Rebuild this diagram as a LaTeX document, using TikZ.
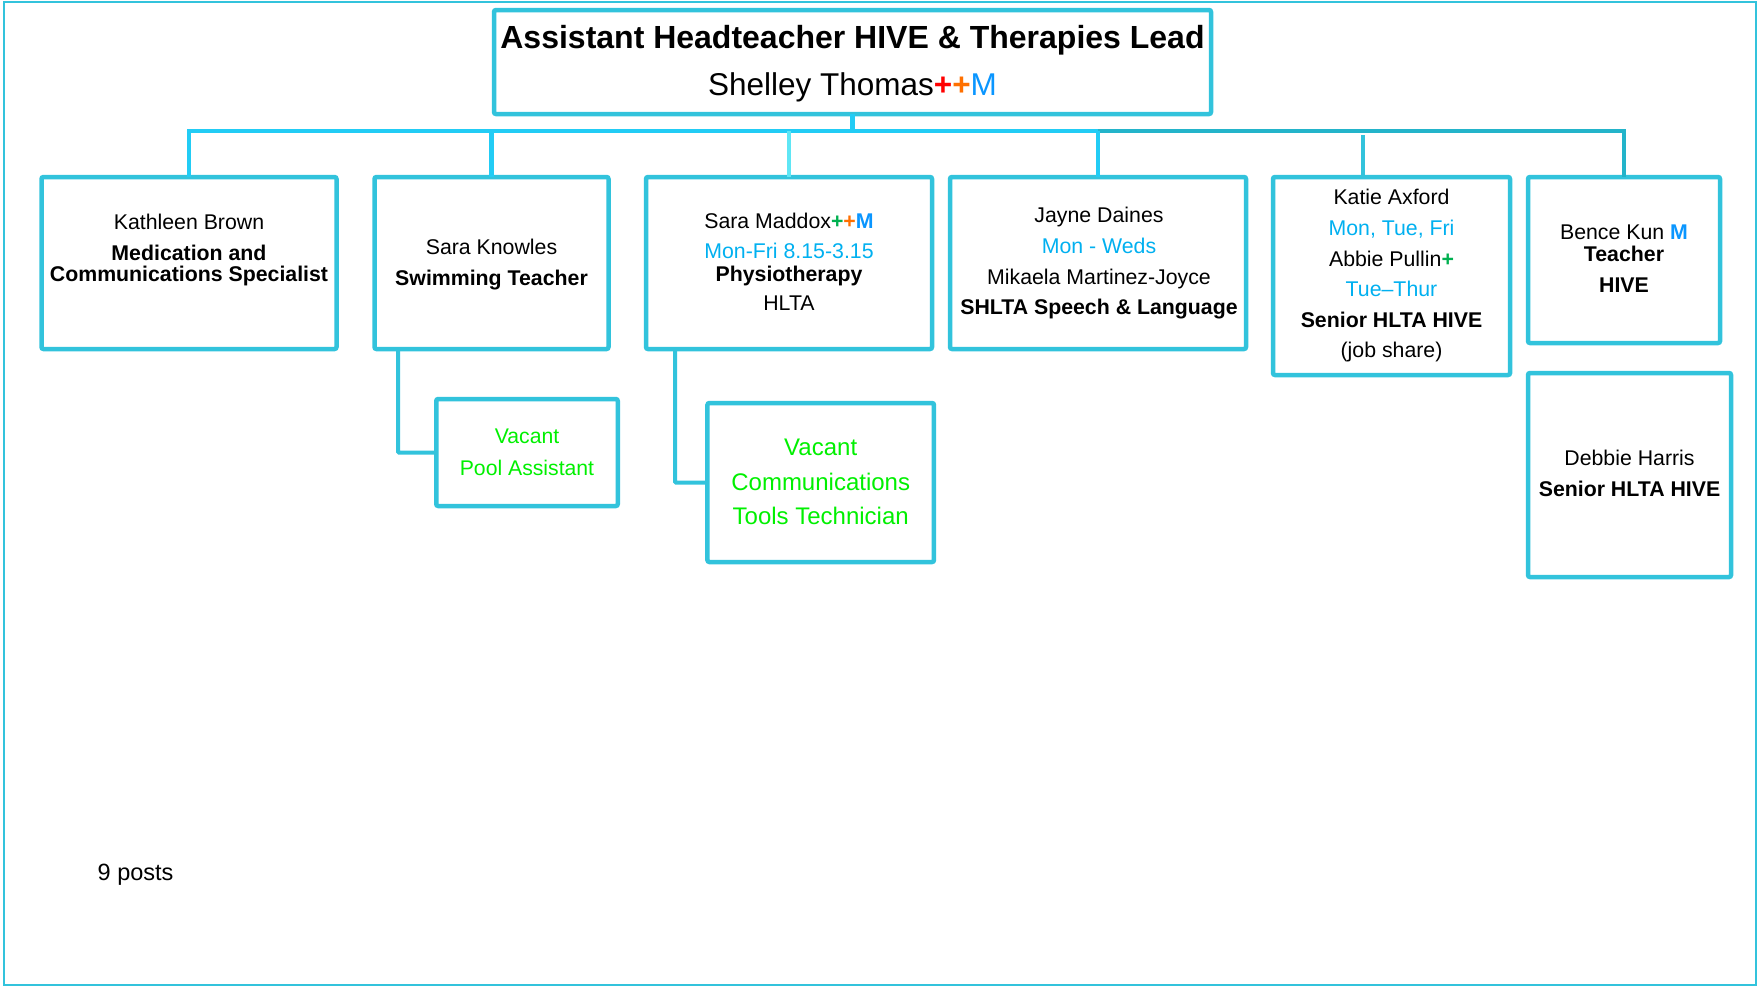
\documentclass[tikz,border=0pt]{standalone}
\usepackage{fontspec}
\setmainfont{Liberation Sans}
\definecolor{bordc}{RGB}{50,195,220}
\definecolor{busc}{RGB}{34,204,245}
\definecolor{busd}{RGB}{35,180,202}
\definecolor{busl}{RGB}{95,230,245}
\definecolor{txblue}{RGB}{0,176,240}
\definecolor{mblue}{RGB}{10,150,255}
\definecolor{vgreen}{RGB}{0,240,0}
\definecolor{pgreen}{RGB}{0,176,80}
\definecolor{porange}{RGB}{255,112,0}
\definecolor{pred}{RGB}{255,0,0}
\begin{document}
\begin{tikzpicture}[x=1pt,y=-1pt,
  box/.style={draw=bordc, line width=4.5pt, rounded corners=2pt, rectangle, inner sep=0pt, outer sep=0pt, fill=white},
  tx/.style={anchor=base, inner sep=0pt, outer sep=0pt, font=\fontsize{21.3}{25}\selectfont},
  txb/.style={tx, font=\fontsize{21.3}{25}\selectfont\bfseries},
  txbl/.style={tx, text=txblue},
  vac/.style={anchor=base, inner sep=0pt, outer sep=0pt, text=vgreen},
  conn/.style={draw=bordc, line width=4pt, rounded corners=1pt},
  busline/.style={draw=busc, line width=4.5pt},
  busdark/.style={draw=busd, line width=4.5pt},
  frame/.style={draw=bordc, line width=1.5pt}]
\useasboundingbox (0,0) rectangle (1758,986);
\draw[frame] (4,2) rectangle (1756,985);

% boxes
\node[box, minimum width=717pt, minimum height=104pt] (top) at (852.5,62) {};
\node[box, minimum width=295pt, minimum height=172pt] (kb) at (189,263) {};
\node[box, minimum width=234pt, minimum height=172pt] (sk) at (491.5,263) {};
\node[box, minimum width=286pt, minimum height=172pt] (sm) at (789,263) {};
\node[box, minimum width=296pt, minimum height=172pt] (jd) at (1098,263) {};
\node[box, minimum width=237pt, minimum height=198pt] (ka) at (1391.5,276) {};
\node[box, minimum width=192pt, minimum height=166pt] (bk) at (1624,260) {};
\node[box, minimum width=203pt, minimum height=204pt] (dh) at (1629.5,475) {};
\node[box, minimum width=181.5pt, minimum height=107pt] (pa) at (527,452.5) {};
\node[box, minimum width=226.5pt, minimum height=159pt] (ct) at (820.7,482.5) {};

% bus
\coordinate (busj) at (1098,131);
\coordinate (kaTop) at (1363,177);
\coordinate (skB) at (398,349);
\coordinate (smB) at (675,349);
\draw[busline] (top.south) -- (top.south |- busj);
\draw[busline] (kb.north) |- (busj);
\draw[busdark] (busj) -| (bk.north);
\draw[busline] (sk.north) -- (sk.north |- busj);
\draw[draw=busl, line width=4pt] (sm.north) -- (sm.north |- busj);
\draw[busline] (jd.north) -- (jd.north |- busj);
\draw[draw=bordc, line width=4pt] (kaTop) -- (1363,135);

% sub connectors
\draw[conn] (skB) |- (pa.west);
\draw[conn] (smB) |- (ct.west);

% title box
\node[tx, font=\fontsize{32}{36}\selectfont\bfseries] (t1) at (852.5,48.3) {Assistant Headteacher HIVE \& Therapies Lead};
\node[tx, font=\fontsize{31.5}{36}\selectfont] (t2) at (852.5,95) {Shelley Thomas\textcolor{pred}{\textbf{+}}\textcolor{porange}{\textbf{+}}\textcolor{mblue}{M}};

% Kathleen
\node[tx] (kb1) at (189,229) {Kathleen Brown};
\node[txb] (kb2) at (189,260) {Medication and};
\node[txb] (kb3) at (189,281.7) {Communications Specialist};

% Sara Knowles
\node[tx] (sk1) at (491.5,254.3) {Sara Knowles};
\node[txb] (sk2) at (491.5,285.7) {Swimming Teacher};

% Sara Maddox
\node[tx] (sm1) at (789,228.3) {Sara Maddox\textcolor{pgreen}{\textbf{+}}\textcolor{porange}{\textbf{+}}\textcolor{mblue}{\textbf{M}}};
\node[txbl] (sm2) at (789,258.3) {Mon-Fri 8.15-3.15};
\node[txb] (sm3) at (789,281) {Physiotherapy};
\node[tx] (sm4) at (789,310.7) {HLTA};

% Jayne
\node[tx] (jd1) at (1099,222.3) {Jayne Daines};
\node[txbl] (jd2) at (1099,253.3) {Mon - Weds};
\node[tx] (jd3) at (1099,284) {Mikaela Martinez-Joyce};
\node[txb] (jd4) at (1099,314.3) {SHLTA Speech \& Language};

% Katie
\node[tx] (ka1) at (1391.5,204.3) {Katie Axford};
\node[txbl] (ka2) at (1391.5,235.7) {Mon, Tue, Fri};
\node[tx] (ka3) at (1391.5,266.7) {Abbie Pullin\textcolor{pgreen}{\textbf{+}}};
\node[txbl] (ka4) at (1391.5,296.7) {Tue–Thur};
\node[txb] (ka5) at (1391.5,327.3) {Senior HLTA HIVE};
\node[tx] (ka6) at (1391.5,357) {(job share)};

% Bence
\node[tx] (bk1) at (1624,239.3) {Bence Kun \textcolor{mblue}{\textbf{M}}};
\node[txb] (bk2) at (1624,261.7) {Teacher};
\node[txb] (bk3) at (1624,292.3) {HIVE};

% Debbie
\node[tx] (dh1) at (1629.5,465.7) {Debbie Harris};
\node[txb] (dh2) at (1629.5,496.7) {Senior HLTA HIVE};

% Pool assistant
\node[vac, font=\fontsize{21.2}{24}\selectfont] (pa1) at (527,443.3) {Vacant};
\node[vac, font=\fontsize{21.2}{24}\selectfont] (pa2) at (527,475) {Pool Assistant};

% Comms tools
\node[vac, font=\fontsize{24}{28}\selectfont] (ct1) at (820.7,455) {Vacant};
\node[vac, font=\fontsize{24}{28}\selectfont] (ct2) at (820.7,490) {Communications};
\node[vac, font=\fontsize{24}{28}\selectfont] (ct3) at (820.7,524) {Tools Technician};

% posts
\node[anchor=base west, inner sep=0pt, font=\fontsize{23.5}{28}\selectfont] (posts) at (97.5,880) {9 posts};
\end{tikzpicture}
\end{document}
